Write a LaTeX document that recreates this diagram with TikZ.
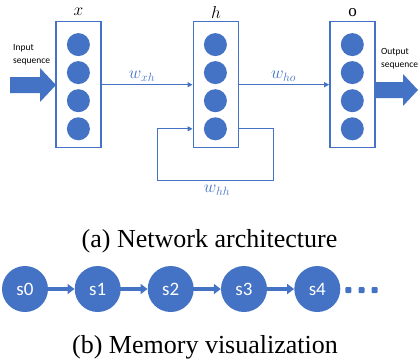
\documentclass[tikz,border=0pt]{standalone}
\usepackage{fontspec}
\setmainfont{Liberation Serif}
\newfontfamily\calib{Carlito}
\usetikzlibrary{arrows.meta}
\definecolor{ob}{HTML}{4472C4}
\tikzset{
  layer/.style={draw=ob, line width=1.5pt, minimum width=45pt, minimum height=126pt, inner sep=0pt},
  unit/.style={circle, fill=ob, minimum size=23pt, inner sep=0pt},
  conn/.style={draw=ob, line width=1pt, -{Triangle[length=5pt,width=5pt]}},
  wlab/.style={text=ob, font=\fontsize{18.5}{18.5}\selectfont, inner sep=0pt},
  toplab/.style={font=\fontsize{17}{17}\selectfont, inner sep=0pt},
  iolab/.style={font=\calib\fontsize{9.5}{12.5}\selectfont, align=left, inner sep=0pt, anchor=west},
  state/.style={circle, fill=ob, minimum size=46pt, inner sep=0pt, text=white, font=\calib\fontsize{19}{19}\selectfont},
  chainarr/.style={draw=ob, line width=3.5pt, -{Triangle[length=7pt,width=10pt]}, shorten <=-1pt},
  dot/.style={fill=ob, minimum size=6pt, inner sep=0pt, rounded corners=1pt},
  captext/.style={font=\fontsize{26}{26}\selectfont, inner sep=0pt, anchor=base}
}
\begin{document}
\begin{tikzpicture}[x=1pt,y=-1pt]
\useasboundingbox (0,0) rectangle (419,362);
% layers
\node[layer] (xbox) at (78.6,84.7) {};
\node[layer] (hbox) at (215.8,84.7) {};
\node[layer] (obox) at (352.4,84.7) {};
\foreach \n/\cx in {x/78.4,h/215.4,o/352.3}{
  \foreach \i/\cy in {1/44.6,2/72.6,3/100.7,4/128.8}{
    \node[unit] (\n\i) at (\cx,\cy) {};
  }
}
% labels above
\node[toplab] (lx) at (78.5,12) {$x$};
\node[toplab] (lh) at (216,12) {$h$};
\node[toplab] (lo) at (352.5,13) {o};
% input / output block arrows
\fill[ob] (10,77) -- (40,77) -- (40,68) -- (56,85) -- (40,102) -- (40,93) -- (10,93) -- cycle;
\fill[ob] (374,82) -- (403,82) -- (403,74) -- (418,90) -- (403,106) -- (403,98) -- (374,98) -- cycle;
\node[iolab] (inl) at (13,54.5) {Input\\sequence};
\node[iolab] (outl) at (381,58.5) {Output\\sequence};
% connectors
\draw[conn] (xbox.east) -- (hbox.west);
\draw[conn] (hbox.east) -- (obox.west);
\coordinate (lr) at (273.3,180.7);
\coordinate (ll) at (157.7,180.7);
\draw[conn] (hbox.east |- h4) -| (lr) -- (ll) |- (hbox.west |- h4);
\node[wlab] (wxh) at (142,76) {$w_{xh}$};
\node[wlab] (who) at (283.5,76) {$w_{ho}$};
\node[wlab] (whh) at (217,190) {$w_{hh}$};
% caption a
\node[captext] (capa) at (209.5,247) {(a) Network architecture};
% chain
\foreach \i/\cx in {0/25,1/97.7,2/170.7,3/244,4/317.3}{
  \node[state] (s\i) at (\cx,289) {s\i};
}
\draw[chainarr] (s0) -- (s1);
\draw[chainarr] (s1) -- (s2);
\draw[chainarr] (s2) -- (s3);
\draw[chainarr] (s3) -- (s4);
\node[dot] (d1) at (348.3,290) {};
\node[dot] (d2) at (361.5,290) {};
\node[dot] (d3) at (374.5,290) {};
% caption b
\node[captext] (capb) at (205,353) {(b) Memory visualization};
\end{tikzpicture}
\end{document}
